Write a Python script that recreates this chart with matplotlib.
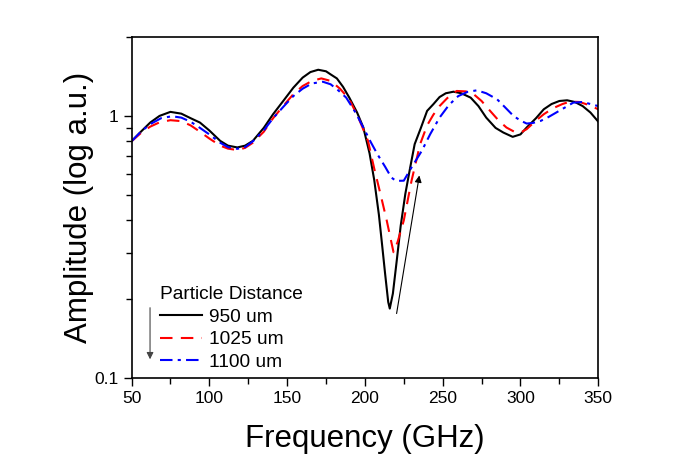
import numpy as np
import matplotlib
matplotlib.use('Agg')
import matplotlib.pyplot as plt
from matplotlib.ticker import FixedLocator, NullFormatter, LogLocator, MultipleLocator

plt.rcParams['font.family'] = ['Liberation Sans', 'DejaVu Sans']

# データ (周波数 GHz, 振幅)
freq_950 = [50, 56, 62, 68, 75, 82, 88, 94, 100, 107, 112, 118, 123, 128, 135, 141, 148, 154,
            160, 165, 170, 175, 178, 182, 186, 190, 195, 199, 203, 206, 209, 211, 213, 215, 216,
            218, 220.5, 223, 226, 229, 232, 236, 240, 244, 248, 252, 257, 262, 268, 273, 278,
            284, 289, 295, 300, 304, 310, 315, 320, 325, 330, 335, 340, 345, 350]
amp_950 = [0.80, 0.87, 0.943, 1.00, 1.036, 1.02, 0.98, 0.943, 0.88, 0.803, 0.77, 0.758, 0.77,
           0.803, 0.90, 1.015, 1.15, 1.281, 1.40, 1.47, 1.50, 1.48, 1.44, 1.39, 1.29, 1.174,
           1.03, 0.903, 0.72, 0.57, 0.42, 0.325, 0.25, 0.195, 0.184, 0.21, 0.281, 0.38, 0.504,
           0.63, 0.78, 0.90, 1.045, 1.108, 1.18, 1.22, 1.237, 1.22, 1.174, 1.09, 0.985, 0.90,
           0.864, 0.832, 0.85, 0.903, 0.98, 1.06, 1.11, 1.14, 1.147, 1.13, 1.09, 1.03, 0.951]

freq_1025 = [50, 56, 62, 68, 75, 82, 88, 94, 100, 107, 112, 118, 123, 128, 135, 141, 148, 154,
             160, 166, 172, 178, 184, 190, 196, 202, 206, 210, 214, 218.4, 221, 225, 230, 235.5,
             240, 244, 248, 253, 259, 265, 270, 275, 280.5, 286, 291, 297, 301, 304, 310, 315,
             321, 327, 332, 338, 344, 350]
amp_1025 = [0.80, 0.86, 0.91, 0.945, 0.963, 0.955, 0.92, 0.87, 0.82, 0.77, 0.75, 0.741, 0.755,
            0.79, 0.87, 0.98, 1.10, 1.21, 1.30, 1.36, 1.39, 1.36, 1.27, 1.157, 0.98, 0.803,
            0.63, 0.504, 0.40, 0.302, 0.33, 0.399, 0.566, 0.78, 0.92, 1.01, 1.09, 1.17, 1.245,
            1.24, 1.209, 1.14, 1.045, 0.96, 0.903, 0.864, 0.87, 0.89, 0.96, 1.015, 1.07, 1.11,
            1.134, 1.13, 1.10, 1.06]

freq_1100 = [50, 56, 62, 69, 76, 82, 88, 94, 100, 107, 112, 118, 123, 128, 135, 141, 148, 154,
             160, 166, 173, 178, 183, 188, 194, 199, 204, 208, 213, 217, 220, 225, 230, 236.6,
             242, 248, 254, 260, 266, 272, 278, 285, 290, 295.5, 300, 304, 308, 313, 318, 323,
             329, 334, 340, 345, 350]
amp_1100 = [0.80, 0.87, 0.93, 0.98, 0.997, 0.985, 0.95, 0.90, 0.85, 0.79, 0.76, 0.749, 0.76,
            0.80, 0.88, 0.98, 1.09, 1.19, 1.27, 1.33, 1.35, 1.32, 1.25, 1.174, 1.03, 0.903,
            0.79, 0.715, 0.64, 0.582, 0.565, 0.566, 0.636, 0.736, 0.852, 0.985, 1.10, 1.19,
            1.235, 1.252, 1.22, 1.157, 1.08, 1.0, 0.96, 0.935, 0.94, 0.957, 0.99, 1.03, 1.08,
            1.124, 1.13, 1.11, 1.09]

labels = ['950 um', '1025 um', '1100 um']

fig = plt.figure(figsize=(6.97, 4.58), dpi=100)
ax = fig.add_axes([0.1887, 0.1747, 0.6696, 0.7445])

ax.plot(freq_950, amp_950, color='black', lw=1.5, label=labels[0])
ax.plot(freq_1025, amp_1025, color='red', lw=1.5, ls=(0, (6, 4)), label=labels[1])
ax.plot(freq_1100, amp_1100, color='blue', lw=1.5, ls=(0, (6, 2.5, 1.5, 2.5)), label=labels[2])

ax.set_yscale('log')
ax.set_xlim(50, 350)
ax.set_ylim(0.1, 2.0)
ax.xaxis.set_major_locator(MultipleLocator(50))
ax.xaxis.set_minor_locator(MultipleLocator(25))
ax.yaxis.set_major_locator(FixedLocator([0.1, 1]))
ax.yaxis.set_major_formatter(plt.FuncFormatter(lambda v, p: '0.1' if v < 0.5 else '1'))
ax.yaxis.set_minor_locator(LogLocator(base=10, subs=np.arange(2, 10)))
ax.yaxis.set_minor_formatter(NullFormatter())
ax.tick_params(which='major', direction='out', length=6, width=1, labelsize=12.5)
ax.tick_params(which='minor', direction='out', length=4, width=1)
for s in ax.spines.values():
    s.set_linewidth(1.2)

ax.set_xlabel('Frequency (GHz)', fontsize=22.5, labelpad=13)
ax.set_ylabel('Amplitude (log a.u.)', fontsize=22.5, labelpad=0)

leg = ax.legend(title='Particle Distance', loc='lower left', bbox_to_anchor=(0.052, 0.009),
                frameon=False, fontsize=13.8, title_fontsize=13.8, handlelength=2.2,
                handletextpad=0.35, labelspacing=0.28, borderaxespad=0.1, borderpad=0.1)
leg._legend_box.align = 'left'

# 矢印
ax.annotate('', xy=(235.3, 0.607), xytext=(220.1, 0.172),
            arrowprops=dict(arrowstyle='-|>', color='black', lw=0.8, mutation_scale=10))
ax.annotate('', xy=(61.9, 0.115), xytext=(61.9, 0.19),
            arrowprops=dict(arrowstyle='-|>', color='#444444', lw=0.8, mutation_scale=10))

fig.savefig('out.png', dpi=100)
